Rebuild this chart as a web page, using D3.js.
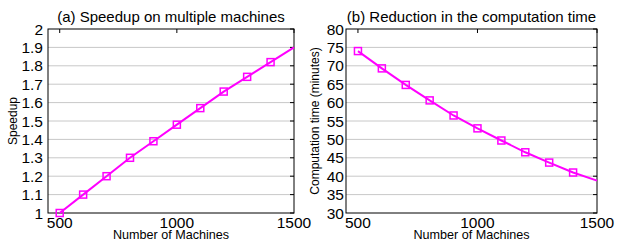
<!DOCTYPE html>
<html lang="en">
<head>
<meta charset="utf-8">
<title>Speedup</title>
<script src="https://cdn.jsdelivr.net/npm/d3@7"></script>
<style>
  body { margin: 0; background: #fff; }
  text { font-family: "Liberation Sans", Arial, sans-serif; fill: #000; }
</style>
</head>
<body>
<script>
// machines (markers), and the line runs on to 1500
var machines = [500, 600, 700, 800, 900, 1000, 1100, 1200, 1300, 1400];
var lineMachines = [500, 600, 700, 800, 900, 1000, 1100, 1200, 1300, 1400, 1500];
var speedup = [1.0, 1.1, 1.2, 1.3, 1.39, 1.48, 1.57, 1.66, 1.74, 1.82, 1.9];
var timeMinutes = [74.0, 69.3, 64.8, 60.6, 56.5, 53.0, 49.7, 46.5, 43.7, 41.0, 38.8];
var xTicks = [500, 1000, 1500];
var speedTicks = [1, 1.1, 1.2, 1.3, 1.4, 1.5, 1.6, 1.7, 1.8, 1.9, 2];
var timeTicks = [30, 35, 40, 45, 50, 55, 60, 65, 70, 75, 80];

var svg = d3.select("body").append("svg").attr("width", 619).attr("height", 240);

function panel(opt) {
  var x = d3.scaleLinear().domain([450, 1500]).range([opt.left, opt.right]);
  var y = d3.scaleLinear().domain(opt.domain).range([213, 29]);
  var g = svg.append("g");

  // grid
  g.selectAll("line.grid").data(opt.yTicks.slice(1, -1)).enter().append("line")
    .attr("x1", opt.left).attr("x2", opt.right)
    .attr("y1", function(d) { return y(d); }).attr("y2", function(d) { return y(d); })
    .style("stroke", "#c8c8c8").style("stroke-width", 1);

  // ticks on the mirror sides, pointing inward
  g.selectAll("line.yt").data(opt.yTicks).enter().append("line")
    .attr("x1", opt.right).attr("x2", opt.right - 4)
    .attr("y1", function(d) { return y(d); }).attr("y2", function(d) { return y(d); })
    .style("stroke", "#000");
  g.selectAll("line.xt").data(xTicks).enter().append("line")
    .attr("x1", function(d) { return x(d); }).attr("x2", function(d) { return x(d); })
    .attr("y1", 29).attr("y2", 33)
    .style("stroke", "#000");

  // frame
  g.append("rect").attr("x", opt.left).attr("y", 29)
    .attr("width", opt.right - opt.left).attr("height", 184)
    .style("fill", "none").style("stroke", "#000").style("stroke-width", 1);

  // tick labels
  g.selectAll("text.yl").data(opt.yTicks).enter().append("text")
    .attr("x", opt.left - opt.labGap).attr("y", function(d) { return y(d) + 5.5; })
    .attr("text-anchor", "end").style("font-size", "15.5px")
    .text(function(d) { return d; });
  g.selectAll("text.xl").data(xTicks).enter().append("text")
    .attr("x", function(d) { return x(d); }).attr("y", 228)
    .attr("text-anchor", "middle").style("font-size", "15.5px")
    .text(function(d) { return d; });

  // axis titles
  g.append("text").attr("x", (opt.left + opt.right) / 2).attr("y", 239)
    .attr("text-anchor", "middle").style("font-size", "12.6px").text("Number of Machines");
  g.append("text").attr("transform", "translate(" + opt.ylabX + "," + 121 + ") rotate(-90)")
    .attr("text-anchor", "middle").style("font-size", "12px").text(opt.ylabel);
  g.append("text").attr("x", (opt.left + opt.right) / 2).attr("y", 22)
    .attr("text-anchor", "middle").style("font-size", "15px").text(opt.title);

  // line
  var line = d3.line().x(function(d) { return x(d[0]); }).y(function(d) { return y(d[1]); });
  g.append("path").datum(d3.zip(lineMachines, opt.values))
    .attr("d", line)
    .style("fill", "none").style("stroke", "#ff00ff").style("stroke-width", 2);

  // markers
  g.selectAll("rect.m").data(d3.zip(machines, opt.values.slice(0, machines.length))).enter().append("rect")
    .attr("x", function(d) { return x(d[0]) - 3.5; })
    .attr("y", function(d) { return y(d[1]) - 3.5; })
    .attr("width", 7).attr("height", 7)
    .style("fill", "none").style("stroke", "#ff00ff").style("stroke-width", 1.5);
}

panel({ left: 48, right: 294, domain: [1, 2], yTicks: speedTicks, values: speedup, labGap: 5,
  ylabel: "Speedup", ylabX: 17, title: "(a) Speedup on multiple machines" });
panel({ left: 346, right: 597, domain: [30, 80], yTicks: timeTicks, values: timeMinutes, labGap: 2,
  ylabel: "Computation time (minutes)", ylabX: 319, title: "(b) Reduction in the computation time" });
</script>
</body>
</html>
